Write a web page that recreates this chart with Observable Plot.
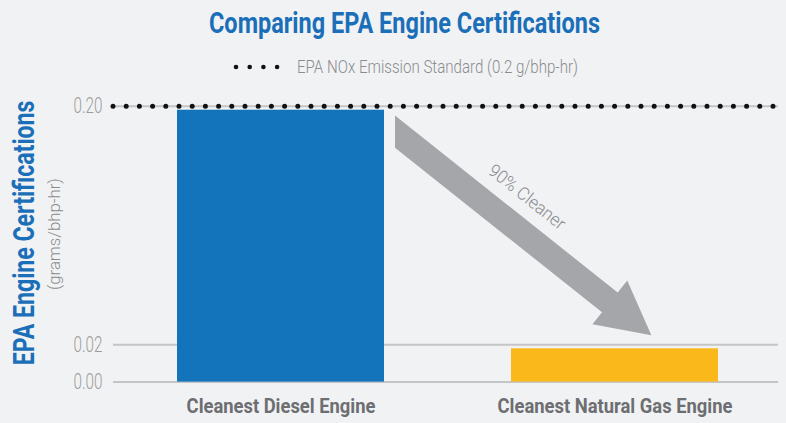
<!DOCTYPE html>
<html><head><meta charset="utf-8">
<script src="https://cdn.jsdelivr.net/npm/d3@7"></script>
<script src="https://cdn.jsdelivr.net/npm/@observablehq/plot@0.6"></script>
<style>
html,body{margin:0;padding:0;background:#f1f2f4;}
#wrap{position:relative;width:786px;height:423px;overflow:hidden;font-family:Roboto,"Open Sans",sans-serif;}
#header{position:relative;height:88px;}
.fit{position:absolute;white-space:nowrap;transform-origin:0 0;display:inline-block;}
#title{left:209px;top:8px;font-size:30px;line-height:30px;font-weight:700;color:#1b6fb8;}
#legend-text{left:297px;top:57.8px;font-size:18px;line-height:18px;font-weight:300;color:#8b8c8f;}
#legend-dots{position:absolute;left:230px;top:60px;}
#chart svg{display:block;}
</style></head><body>
<div id="wrap">
  <div id="header">
    <span id="title" class="fit" data-w="391"></span>
    <svg id="legend-dots" width="54" height="14"></svg>
    <span id="legend-text" class="fit" data-w="281"></span>
  </div>
  <div id="chart"></div>
</div>
<script>
// ---- data ----
const chartTitle = "Comparing EPA Engine Certifications";
const standardLabel = "EPA NOx Emission Standard (0.2 g/bhp-hr)";
const engines = ["Cleanest Diesel Engine", "Cleanest Natural Gas Engine"];
const certifications = [0.20, 0.02];
const barColors = ["#1474bb", "#fbb81b"];
const yTicks = [0, 0.02, 0.20];
const yTickLabels = ["0.00", "0.02", "0.20"];
const standard = 0.20;
const yTitle = "EPA Engine Certifications";
const yUnit = "(grams/bhp-hr)";
const arrowLabel = "90% Cleaner";

const data = engines.map((engine, i) => ({engine, value: certifications[i], color: barColors[i]}));
const ticks = yTicks.map((value, i) => ({value, label: yTickLabels[i]}));

// broken (piecewise) y axis: the first 0.02 takes ~13.5% of the height
const yBreak = 0.02, yMax = 0.20, lowShare = 0.1352;
const warp = v => v <= yBreak ? (v / yBreak) * lowShare : lowShare + (v - yBreak) / (yMax - yBreak) * (1 - lowShare);

// ---- header ----
document.getElementById("title").textContent = chartTitle;
document.getElementById("legend-text").textContent = standardLabel;
d3.select("#legend-dots").selectAll("circle").data(d3.range(4)).join("circle")
  .attr("cx", i => 6 + i * 13.7).attr("cy", 7).attr("r", 2.3).attr("fill", "#111");

// ---- arrow annotation (custom render mark) ----
function arrowMark(index, scales) {
  const x = scales.x, y = v => scales.y(warp(v));
  const bw = x.bandwidth ? x.bandwidth() : 208;
  const S = [x(engines[0]) + bw + 11, y(certifications[0]) + 26];
  const T = [x(engines[1]) + 0.678 * bw, y(certifications[1]) - 9];
  const L = Math.hypot(T[0] - S[0], T[1] - S[1]);
  const u = [(T[0] - S[0]) / L, (T[1] - S[1]) / L];
  const n = [u[1], -u[0]];
  const w = 12.6, hw = 28, hl = 53;
  const B = [T[0] - hl * u[0], T[1] - hl * u[1]];
  const pts = [
    [S[0], S[1] - w / u[0]],
    [B[0] + w * n[0], B[1] + w * n[1]],
    [B[0] + hw * n[0], B[1] + hw * n[1]],
    T,
    [B[0] - hw * n[0], B[1] - hw * n[1]],
    [B[0] - w * n[0], B[1] - w * n[1]],
    [S[0], S[1] + w / u[0]]
  ];
  const g = d3.create("svg:g").attr("aria-label", "arrow");
  g.append("polygon").attr("points", pts.map(p => p.join(",")).join(" ")).attr("fill", "#a5a6a9");
  const P = [S[0] + 144 * u[0] + 30.8 * n[0], S[1] + 144 * u[1] + 30.8 * n[1]];
  const ang = Math.atan2(u[1], u[0]) * 180 / Math.PI;
  g.append("text").attr("class", "arrow-label")
    .attr("transform", `translate(${P[0]},${P[1]}) rotate(${ang})`)
    .attr("y", "0.32em").attr("text-anchor", "middle")
    .attr("font-size", 18).attr("font-weight", 300).attr("fill", "#8b8c8f")
    .text(arrowLabel);
  return g.node();
}

const svg = Plot.plot({
  width: 786,
  height: 335,
  marginLeft: 113,
  marginRight: 8,
  marginTop: 17.7,
  marginBottom: 41.4,
  style: {background: "transparent", fontFamily: "Roboto, sans-serif", overflow: "visible"},
  x: {domain: engines, range: [176, 719], paddingInner: 0.379, paddingOuter: 0, axis: null},
  y: {transform: warp, axis: null},
  marks: [
    Plot.ruleY(yTicks, {stroke: "#c4c5c7", strokeWidth: 2}),
    Plot.barY(data, {x: "engine", y: "value", fill: "color", insetTop: 4}),
    Plot.ruleY([standard], {stroke: "#111", strokeWidth: 5, strokeDasharray: "0 13.2", strokeLinecap: "round"}),
    arrowMark,
    // y tick labels (drawn as text so they follow the broken scale)
    Plot.text(ticks, {y: "value", text: "label", frameAnchor: "left", dx: -11, textAnchor: "end",
      fontSize: 22, fontWeight: 300, fill: "#9b9c9f"}),
    Plot.axisX({tickSize: 0, tickPadding: 16.4, fontSize: 21, fontWeight: 700, color: "#6d6e71", label: null}),
    Plot.text([yTitle], {text: d => d, frameAnchor: "left", rotate: -90, dx: -79.7, dy: -11.2,
      lineAnchor: "bottom", textAnchor: "middle", fontSize: 29, fontWeight: 700, fill: "#1b6fb8"}),
    Plot.text([yUnit], {text: d => d, frameAnchor: "left", rotate: -90, dx: -53.7, dy: -10,
      lineAnchor: "bottom", textAnchor: "middle", fontSize: 17, fontWeight: 300, fill: "#8b8c8f"})
  ]
});
document.getElementById("chart").appendChild(svg);

// ---- condense text to mimic the narrow typeface ----
function squeeze(el, s) {
  let t = el.getAttribute("transform") || "";
  const x = el.getAttribute("x");
  if (x != null && !/em$/.test(x)) { t += ` translate(${x},0)`; el.removeAttribute("x"); }
  el.setAttribute("transform", `${t} scale(${s},1)`);
}
function fit(el, target) { const w = el.getComputedTextLength(); if (w > 0) squeeze(el, target / w); }

const targets = {
  [engines[0]]: 189, [engines[1]]: 235,
  [yTitle]: 265, [yUnit]: 112, [arrowLabel]: 93
};
yTickLabels.forEach(t => targets[t] = 29);
svg.querySelectorAll("text").forEach(el => {
  const w = targets[el.textContent];
  if (w) fit(el, w);
});

document.querySelectorAll(".fit").forEach(el => {
  const w = el.getBoundingClientRect().width;
  el.style.transform = `scaleX(${+el.dataset.w / w})`;
});
</script>
</body></html>
